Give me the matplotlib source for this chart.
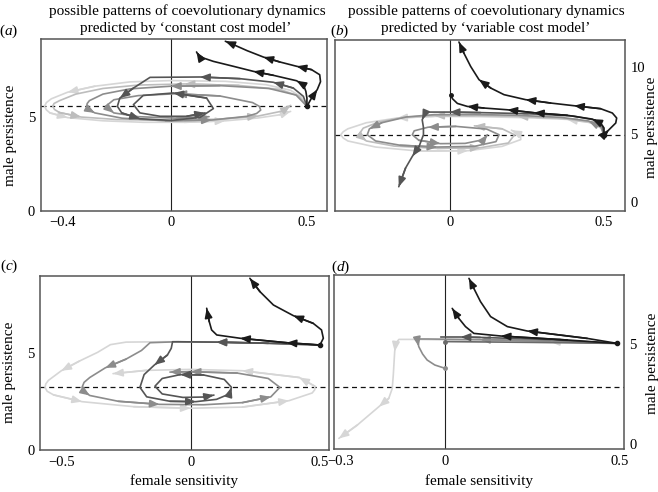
import matplotlib
matplotlib.use('Agg')
import matplotlib.pyplot as plt

plt.rcParams['font.family'] = ['Liberation Serif', 'DejaVu Serif']
plt.rcParams['mathtext.fontset'] = 'custom'
plt.rcParams['mathtext.rm'] = 'Liberation Serif'
plt.rcParams['mathtext.it'] = 'Liberation Serif:italic'

BLACK = '#1a1a1a'
DARK = '#555555'
MED = '#8c8c8c'
LIGHT = '#bdbdbd'
PALE = '#d6d6d6'

# ---------------- panel (a): constant cost, start (0.5, 5.55)
a_eq = 5.55
a_pale = [(0.50,5.55),(0.48,6.05),(0.44,6.40),(0.35,6.70),(0.20,6.88),(0.0,6.92),(-0.15,6.85),
          (-0.28,6.62),(-0.38,6.30),(-0.44,5.95),(-0.458,5.75),(-0.465,5.55),(-0.458,5.36),
          (-0.445,5.20),(-0.38,4.95),(-0.25,4.78),(-0.10,4.70),(0.05,4.70),(0.20,4.78),(0.32,4.93),
          (0.40,5.10),(0.44,5.28)]
a_light = [(0.50,5.55),(0.47,6.10),(0.40,6.45),(0.25,6.66),(0.05,6.74),(-0.12,6.68),(-0.25,6.50),
           (-0.35,6.20),(-0.41,5.85),(-0.43,5.70),(-0.435,5.55),(-0.428,5.38),(-0.41,5.22),
           (-0.33,4.98),(-0.20,4.85),(0.0,4.80),(0.18,4.87),(0.32,5.03),(0.41,5.30),(0.44,5.60)]
a_med = [(0.50,5.55),(0.46,6.15),(0.36,6.50),(0.18,6.65),(0.0,6.62),(-0.15,6.48),(-0.25,6.20),
         (-0.30,5.85),(-0.308,5.70),(-0.31,5.55),(-0.30,5.36),(-0.28,5.20),(-0.18,4.92),(-0.02,4.78),
         (0.15,4.82),(0.28,5.02),(0.315,5.17),(0.33,5.35),(0.325,5.55),(0.30,5.75),(0.18,6.10),
         (0.02,6.22),(-0.12,6.12),(-0.21,5.90),(-0.24,5.55),(-0.21,5.20),(-0.12,5.00),(0.02,4.92),
         (0.14,5.00)]
a_dark = [(0.50,5.55),(0.487,6.08),(0.45,6.52),(0.376,6.83),(0.254,7.02),(0.107,7.11),(-0.077,7.09),
          (-0.138,6.52),(-0.188,5.99),(-0.197,5.55),(-0.181,5.20),(-0.114,4.89),(0.002,4.80),
          (0.107,4.96),(0.156,5.43),(0.131,5.99),(0.009,6.26),(-0.102,6.13),(-0.138,5.64),
          (-0.114,5.20),(-0.040,5.02),(0.058,5.02),(0.125,5.20)]
a_black1 = [(0.50,5.55),(0.517,5.99),(0.538,6.44),(0.55,6.86),(0.547,7.23),(0.517,7.50),(0.462,7.68),
            (0.40,7.91),(0.34,8.17),(0.28,8.51),(0.23,8.83),(0.20,9.01)]
a_black2 = [(0.50,5.55),(0.50,5.99),(0.496,6.35),(0.487,6.70),(0.462,6.91),(0.376,7.20),(0.303,7.41),
            (0.229,7.68),(0.156,7.94),(0.119,8.12),(0.10,8.30),(0.094,8.44)]

# ---------------- panel (b): variable cost, start (0.5, 4.96)
b_eq = 4.96
b_pale = [(0.50,4.96),(0.49,5.45),(0.46,5.85),(0.38,6.10),(0.25,6.22),(0.10,6.30),(-0.05,6.32),
          (-0.17,6.20),(-0.27,5.85),(-0.33,5.40),(-0.345,5.18),(-0.353,4.96),(-0.345,4.72),
          (-0.33,4.50),(-0.24,4.05),(-0.10,3.75),(0.06,3.78),(0.17,4.10),(0.23,4.60),(0.23,4.96),
          (0.20,5.30)]
b_light = [(0.50,4.96),(0.49,5.50),(0.45,5.92),(0.36,6.18),(0.22,6.32),(0.08,6.38),(-0.05,6.38),
           (-0.15,6.25),(-0.23,5.90),(-0.28,5.45),(-0.295,4.96),(-0.27,4.50),(-0.18,4.12),(-0.04,3.95),
           (0.10,4.00),(0.19,4.35),(0.21,4.96),(0.17,5.40),(0.08,5.62)]
b_med = [(0.50,4.96),(0.49,5.55),(0.45,5.98),(0.36,6.25),(0.22,6.40),(0.08,6.46),(-0.05,6.45),
         (-0.14,6.28),(-0.22,5.85),(-0.26,5.40),(-0.267,4.96),(-0.24,4.50),(-0.16,4.18),(-0.04,4.05),
         (0.08,4.10),(0.15,4.45),(0.16,4.96),(0.12,5.38),(0.02,5.58),(-0.07,5.52),(-0.115,5.25),
         (-0.121,4.96),(-0.10,4.55),(-0.03,4.30),(0.05,4.32),(0.11,4.60),(0.122,4.96)]
b_dark = [(0.50,4.96),(0.495,5.60),(0.47,6.05),(0.40,6.35),(0.25,6.52),(0.10,6.60),(0.0,6.64),
          (-0.078,6.64),(-0.089,6.07),(-0.085,5.50),(-0.085,4.96),(-0.099,4.10),(-0.121,3.36),
          (-0.143,2.49),(-0.165,1.11)]
b_black1 = [(0.50,4.96),(0.516,5.33),(0.538,5.83),(0.541,6.20),(0.527,6.57),(0.489,6.89),(0.403,7.11),
            (0.327,7.31),(0.246,7.56),(0.176,7.93),(0.133,8.42),(0.095,9.04),(0.068,10.02),(0.046,11.01),
            (0.030,11.83)]
b_black2 = [(0.50,4.96),(0.50,5.46),(0.489,5.83),(0.462,6.12),(0.381,6.40),(0.273,6.59),(0.187,6.81),
            (0.111,6.94),(0.057,7.06),(0.025,7.28),(0.009,7.63),(0.003,7.93)]

# ---------------- panel (c): constant cost, start (0.5, 5.43)
c_eq = 3.24
c_pale = [(0.50,5.43),(0.30,5.52),(0.10,5.58),(-0.10,5.60),(-0.25,5.58),(-0.31,5.45),(-0.36,5.05),
          (-0.43,4.60),(-0.50,4.10),(-0.55,3.60),(-0.56,3.42),(-0.563,3.24),(-0.555,3.04),(-0.53,2.85),
          (-0.42,2.50),(-0.22,2.24),(0.0,2.16),(0.20,2.22),(0.38,2.55),(0.47,2.95),(0.48,3.12),
          (0.48,3.30),(0.42,3.75),(0.20,4.10),(0.0,4.17),(-0.17,4.12),(-0.30,3.95)]
c_med = [(0.50,5.43),(0.30,5.52),(0.10,5.58),(-0.05,5.60),(-0.157,5.55),(-0.19,5.15),(-0.25,4.70),
         (-0.33,4.25),(-0.39,3.75),(-0.412,3.50),(-0.42,3.24),(-0.41,3.00),(-0.39,2.82),(-0.28,2.52),
         (-0.12,2.36),(0.05,2.34),(0.20,2.45),(0.31,2.75),(0.345,3.24),(0.30,3.70),(0.18,3.98),
         (0.0,4.05),(-0.08,4.03)]
c_dark = [(0.50,5.43),(0.30,5.52),(0.10,5.58),(-0.07,5.60),(-0.075,5.26),(-0.09,4.91),(-0.14,4.40),
          (-0.18,3.90),(-0.196,3.24),(-0.17,2.75),(-0.08,2.52),(0.02,2.50),(0.10,2.62),(0.15,2.90),
          (0.158,3.24),(0.13,3.65),(0.05,3.88),(-0.04,3.90),(-0.11,3.70),(-0.138,3.30),(-0.11,2.90),
          (-0.03,2.72),(0.05,2.74),(0.09,2.84)]
c_black1 = [(0.50,5.43),(0.513,5.78),(0.506,6.21),(0.474,6.55),(0.397,6.95),(0.32,7.50),(0.268,8.19),
            (0.229,8.88)]
c_black2 = [(0.50,5.43),(0.371,5.55),(0.191,5.78),(0.101,5.95),(0.081,6.21),(0.072,6.64),(0.062,7.33)]

# ---------------- panel (d): variable cost, start (0.493, 5.03)
d_eq = 2.83
d_pale = [(0.493,5.03),(0.30,5.12),(0.10,5.18),(-0.08,5.23),(-0.133,5.23),(-0.142,5.03),(-0.145,4.62),
          (-0.149,3.45),(-0.152,2.78),(-0.162,2.28),(-0.19,1.87),(-0.252,0.95),(-0.305,0.28)]
d_med = [(0.493,5.03),(0.30,5.15),(0.10,5.22),(-0.05,5.25),(-0.08,5.25),(-0.078,5.05),(-0.076,4.87),
         (-0.065,4.50),(-0.052,4.20),(-0.03,3.95),(0.0,3.78)]
d_dark = [(0.493,5.03),(0.30,5.22),(0.10,5.33),(0.044,5.35),(-0.013,5.35)]
d_dark2 = [(0.493,5.03),(0.25,5.08),(0.0,5.12)]
d_black1 = [(0.493,5.03),(0.407,5.28),(0.235,5.65),(0.178,5.87),(0.13,6.37),(0.101,7.12),(0.082,7.78),
            (0.068,8.28)]
d_black2 = [(0.493,5.03),(0.35,5.20),(0.159,5.40),(0.082,5.53),(0.058,5.87),(0.039,6.28),(0.02,6.78)]


def traj(ax, pts, color, arrows=(), lw=1.2, z=2, end_dot=False):
    xs = [p[0] for p in pts]
    ys = [p[1] for p in pts]
    ax.plot(xs, ys, color=color, lw=lw, zorder=z, solid_joinstyle='round', solid_capstyle='round')
    for i in arrows:
        ax.annotate('', xy=pts[i], xytext=pts[i - 1], zorder=z,
                    arrowprops=dict(arrowstyle='-|>,head_length=0.7,head_width=0.28', color=color,
                                    lw=lw, shrinkA=0, shrinkB=0, mutation_scale=8))
    if end_dot:
        ax.plot(xs[-1], ys[-1], 'o', ms=2.5, color=color, zorder=z)


def frame(ax, xlim, ylim, xticks, xlabels, yticks, right=False):
    ax.set_xlim(*xlim)
    ax.set_ylim(*ylim)
    ax.set_xticks(xticks)
    ax.set_xticklabels(xlabels)
    ax.set_yticks(yticks)
    ax.set_yticklabels([str(t) for t in yticks])
    ax.tick_params(length=0, labelsize=10.5, pad=4)
    if right:
        ax.yaxis.tick_right()
    for s in ax.spines.values():
        s.set_color('#555555')
        s.set_linewidth(1.1)
    ax.axvline(0, color='#222222', lw=0.8, zorder=1)


fig = plt.figure(figsize=(6.58, 4.92), dpi=100)
W, H = 658.0, 492.0


def box(l, r, t, b):
    return [l / W, (H - b) / H, (r - l) / W, (b - t) / H]


axa = fig.add_axes(box(40.7, 326.5, 39, 210.7))
axb = fig.add_axes(box(334.7, 624.7, 40, 210.7))
axc = fig.add_axes(box(40, 328.5, 276, 450))
axd = fig.add_axes(box(334, 624, 275, 449.3))

M = '\u2212'
frame(axa, (-0.479, 0.572), (0, 9.13), [-0.4, 0, 0.5], [M + '0.4', '0', '0.5'], [0, 5])
frame(axb, (-0.3725, 0.567), (-0.667, 11.98), [0, 0.5], ['0', '0.5'], [0, 5, 10], right=True)
frame(axc, (-0.5825, 0.533), (0, 9.0), [-0.5, 0, 0.5], [M + '0.5', '0', '0.5'], [0, 5])
frame(axd, (-0.319, 0.5125), (-0.265, 8.45), [-0.3, 0, 0.5], [M + '0.3', '0', '0.5'], [0, 5], right=True)

dash = dict(color='#111111', lw=0.9, ls=(0, (4, 3)), zorder=1)

# (a)
axa.axhline(a_eq, **dash)
traj(axa, a_pale, PALE, [8, 14, 18, 21])
traj(axa, a_light, LIGHT, [4, 13, 17, 19])
traj(axa, a_med, MED, [4, 11, 14, 21, 25, 28])
traj(axa, a_dark, DARK, [3, 5, 8, 11, 16, 22], z=3)
traj(axa, a_black1, BLACK, [2, 6, 8, 11], z=4)
traj(axa, a_black2, BLACK, [4, 6, 11], z=4)
axa.plot(0.5, a_eq, 'o', ms=3, color=BLACK, zorder=5)

# (b)
axb.axhline(b_eq, **dash)
traj(axb, b_pale, PALE, [3, 7, 16, 20])
traj(axb, b_light, LIGHT, [4, 6, 11, 14, 18])
traj(axb, b_med, MED, [2, 9, 13, 19, 23, 26])
traj(axb, b_dark, DARK, [6, 8, 12, 14], z=3)
traj(axb, b_black1, BLACK, [1, 6, 8, 11, 14], z=4)
traj(axb, b_black2, BLACK, [3, 5, 6, 8], z=4, end_dot=True)
axb.plot(0.5, b_eq, 'o', ms=3, color=BLACK, zorder=5)

# (c)
axc.axhline(c_eq, **dash)
traj(axc, c_pale, PALE, [8, 14, 16, 18, 22, 23, 26])
traj(axc, c_med, MED, [2, 7, 12, 14, 17, 21, 22])
traj(axc, c_dark, DARK, [2, 6, 11, 14, 17, 23], z=3)
traj(axc, c_black1, BLACK, [4, 7], z=4)
traj(axc, c_black2, BLACK, [1, 2, 6], z=4)
axc.plot(0.5, 5.43, 'o', ms=3, color=BLACK, zorder=5)

# (d)
axd.axhline(d_eq, **dash)
traj(axd, d_pale, PALE, [1, 6, 10, 12])
traj(axd, d_med, MED, [2, 6], end_dot=True)
traj(axd, d_dark2, '#6a6a6a', [], end_dot=True)
traj(axd, d_dark, DARK, [3], z=3)
traj(axd, d_black1, BLACK, [2, 7], z=4)
traj(axd, d_black2, BLACK, [2, 6], z=4)
axd.plot(0.493, 5.03, 'o', ms=3, color=BLACK, zorder=5)

# axis titles
lab = dict(fontsize=11, ha='center', va='center')
axa.text(-0.104, 0.441, 'male persistence', rotation=90, transform=axa.transAxes, **lab)
axc.text(-0.104, 0.448, 'male persistence', rotation=90, transform=axc.transAxes, **lab)
axb.text(1.094, 0.49, 'male persistence', rotation=90, transform=axb.transAxes, **lab)
axd.text(1.097, 0.492, 'male persistence', rotation=90, transform=axd.transAxes, **lab)
axc.text(0.5, -0.178, 'female sensitivity', transform=axc.transAxes, **lab)
axd.text(0.5, -0.182, 'female sensitivity', transform=axd.transAxes, **lab)

# column headings
fig.text(187 / W, 1 - 11.5 / H, 'possible patterns of coevolutionary dynamics', **lab)
fig.text(186 / W, 1 - 28.5 / H, 'predicted by \u2018constant cost model\u2019', **lab)
fig.text(486 / W, 1 - 11.5 / H, 'possible patterns of coevolutionary dynamics', **lab)
fig.text(486 / W, 1 - 28.5 / H, 'predicted by \u2018variable cost model\u2019', **lab)

# panel letters
for s, (px, py) in zip('abcd', [(9, 31), (339.5, 31.5), (9, 266), (341, 267)]):
    fig.text(px / W, 1 - py / H, '($\\mathit{' + s + '}$)', **lab)

fig.savefig('out.png', dpi=100)
